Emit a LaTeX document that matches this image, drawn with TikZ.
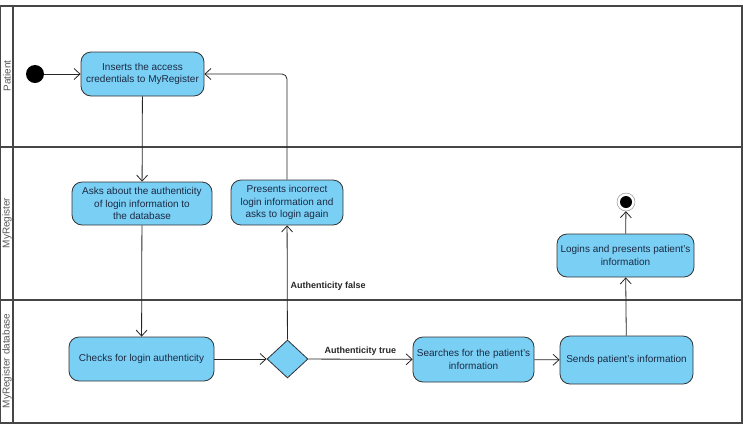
\documentclass[tikz,border=0pt]{standalone}
\usepackage{fontspec}
\setmainfont{Liberation Sans}
\usetikzlibrary{arrows.meta,shapes.geometric}
\definecolor{actblue}{RGB}{122,207,245}
\definecolor{acttext}{RGB}{28,42,66}
\definecolor{lanegray}{RGB}{70,70,70}
\tikzset{
  action/.style={draw=black!80,line width=0.8pt,fill=actblue,rounded corners=10pt,align=center,
    text=acttext,font=\fontsize{10}{12.3}\selectfont,inner sep=2pt},
  flow/.style={-{Straight Barb[length=6pt,width=11pt]},black!85,line width=0.8pt},
  lanename/.style={rotate=90,text=black!65,font=\fontsize{10}{12}\selectfont},
  guard/.style={font=\bfseries\fontsize{9}{11}\selectfont,inner sep=1pt}
}
\begin{document}
\begin{tikzpicture}[x=1pt,y=-1pt]
    \useasboundingbox (0,0) rectangle (744,432);
    % swimlanes
    \draw [lanegray,line width=1.8pt] (0,6) rectangle (742,423);
    \draw [lanegray,line width=1.8pt] (13,6)--(13,423);
    \draw [lanegray,line width=1.8pt] (0,147)--(742,147);
    \draw [lanegray,line width=1.8pt] (0,300)--(742,300);
    \node [lanename] (lpat) at (7,76) {Patient};
    \node [lanename] (lreg) at (7,223) {MyRegister};
    \node [lanename] (ldb) at (7,361) {MyRegister database};
    % actions
    \node [circle,fill=black,minimum size=18pt,inner sep=0pt] (start) at (35,74) {};
    \node [action,minimum width=123pt,minimum height=44pt] (ins) at (142.5,74) {Inserts the access\\credentials to MyRegister};
    \node [action,minimum width=140pt,minimum height=43pt] (ask) at (142,203.5) {Asks about the authenticity\\of login information to\\the database};
    \node [action,minimum width=112pt,minimum height=45pt] (pres) at (287,202.5) {Presents incorrect\\login information and\\asks to login again};
    \node [action,minimum width=145pt,minimum height=44pt] (chk) at (141.5,359) {Checks for login authenticity};
    \node [diamond,draw=black!80,line width=0.8pt,fill=actblue,minimum width=41pt,minimum height=38pt,inner sep=0pt] (dec) at (287.5,359) {};
    \node [action,minimum width=121pt,minimum height=45pt] (srch) at (473.5,359.5) {Searches for the patient's\\information};
    \node [action,minimum width=133pt,minimum height=48pt] (send) at (626.5,360) {Sends patient's information};
    \node [action,minimum width=137pt,minimum height=43pt] (login) at (625.5,255.5) {Logins and presents patient's\\information};
    \node [circle,draw=black!50,fill=white,minimum size=18pt,inner sep=0pt] (fin) at (626,202) {};
    \fill (fin) circle (6pt);
    % flows
    \draw [flow] (start)--(ins);
    \draw [flow] (ins)--(ask);
    \draw [flow] (ask)--(chk);
    \draw [flow] (chk)--(dec);
    \draw [flow] (dec)--(pres) node[guard,anchor=west,pos=0.47,xshift=2pt] {Authenticity false};
    \draw [flow,rounded corners=5pt] (pres.north) |- (ins.east);
    \draw [flow] (dec)--(srch) node[guard,anchor=south,midway,yshift=2pt] {Authenticity true};
    \draw [flow] (srch)--(send);
    \draw [flow] (send)--(login);
    \draw [flow] (login)--(fin);
\end{tikzpicture}
\end{document}
